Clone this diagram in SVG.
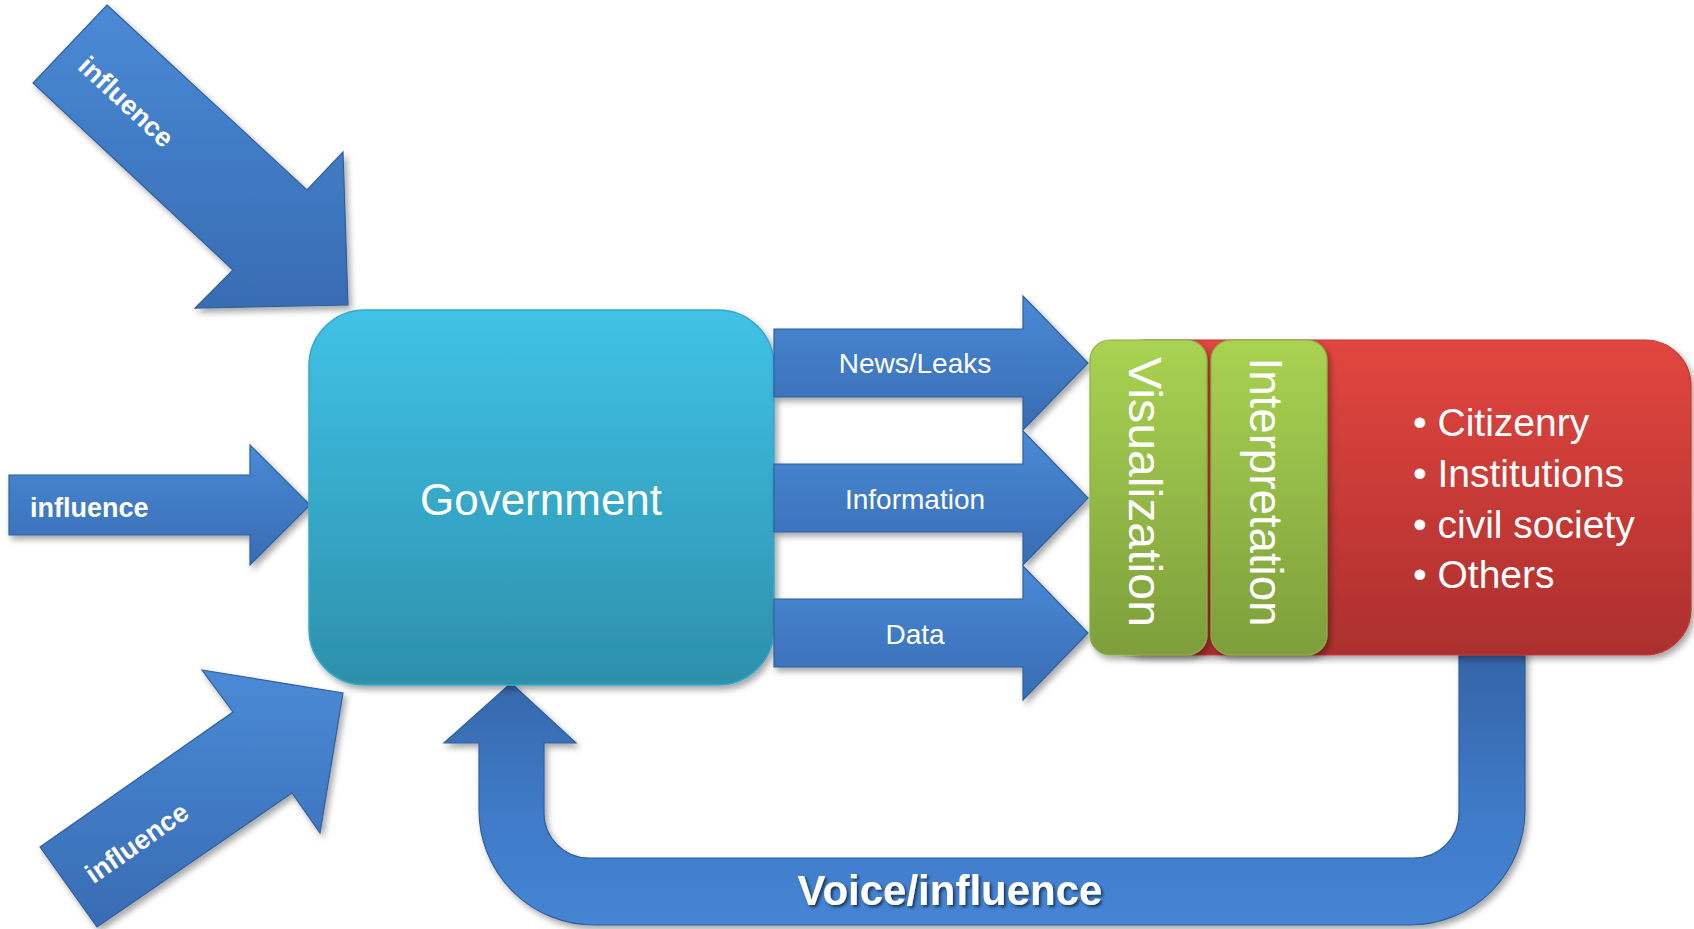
<svg xmlns="http://www.w3.org/2000/svg" width="1694" height="929" viewBox="0 0 1694 929">
<defs>
<style>
.arrow{fill:url(#gBlue);stroke:#2f5f9f;stroke-width:1.2;filter:url(#sh)}
.lbl{font-family:"Liberation Sans",Arial,sans-serif;fill:#ffffff}
.bold{font-weight:bold}
</style>
<linearGradient id="gBlue" x1="0" y1="0" x2="0" y2="1">
<stop offset="0" stop-color="#4a8ad6"/><stop offset="1" stop-color="#386cb3"/>
</linearGradient>
<linearGradient id="gLoop" x1="0" y1="0" x2="0" y2="1">
<stop offset="0" stop-color="#3463a6"/><stop offset="0.6" stop-color="#3f7bc8"/><stop offset="1" stop-color="#4585d4"/>
</linearGradient>
<linearGradient id="gGov" x1="0" y1="0" x2="0" y2="1">
<stop offset="0" stop-color="#40c2e6"/><stop offset="1" stop-color="#2d90ab"/>
</linearGradient>
<linearGradient id="gGreen" x1="0" y1="0" x2="0" y2="1">
<stop offset="0" stop-color="#a9d352"/><stop offset="1" stop-color="#7d9e3b"/>
</linearGradient>
<linearGradient id="gRed" x1="0" y1="0" x2="0" y2="1">
<stop offset="0" stop-color="#e2463f"/><stop offset="1" stop-color="#ac2f2e"/>
</linearGradient>
<filter id="sh" x="-10%" y="-10%" width="125%" height="125%">
<feDropShadow dx="3" dy="4" stdDeviation="3" flood-color="#000" flood-opacity="0.35"/>
</filter>
<filter id="tsh" x="-10%" y="-20%" width="125%" height="150%">
<feDropShadow dx="2" dy="2" stdDeviation="1.5" flood-color="#000" flood-opacity="0.6"/>
</filter>
</defs>

<g id="connectors">
<g id="arrow-influence-top">
<polygon class="arrow" points="107,5 307,190 343,152 348,305 195,308 233,270 33,83"/>
<text class="lbl bold" font-size="27" text-anchor="middle" x="0" y="9" transform="translate(126,102) rotate(43)">influence</text>
</g>
<g id="arrow-influence-mid">
<polygon class="arrow" points="9,475 250,475 250,445 310,505 250,565 250,535 9,535"/>
<text class="lbl bold" font-size="27" x="30" y="517">influence</text>
</g>
<g id="arrow-influence-bottom">
<polygon class="arrow" points="40,847 233,712 202,670 343,693 320,833 292,793 97,927"/>
<text class="lbl bold" font-size="27" text-anchor="middle" x="0" y="9" transform="translate(137,843) rotate(-35)">influence</text>
</g>
<g id="arrow-voice">
<path class="arrow" style="fill:url(#gLoop)" d="M511,683 L576,743 L544,743 L544,813 A45,45 0 0 0 589,858 L1414,858 A45,45 0 0 0 1459,813 L1459,650 L1525,650 L1525,810 A115,115 0 0 1 1410,925 L594,925 A115,115 0 0 1 479,810 L479,743 L444,743 Z"/>
<text class="lbl bold" font-size="42" text-anchor="middle" x="950" y="905" filter="url(#tsh)">Voice/influence</text>
</g>
</g>

<g id="node-government">
<rect x="309" y="310" width="465" height="375" rx="56" ry="56" fill="url(#gGov)" stroke="#37a9c9" stroke-width="1.5" filter="url(#sh)"/>
<text class="lbl" font-size="44" text-anchor="middle" x="541" y="515">Government</text>
</g>

<g id="flows">
<g id="arrow-news">
<polygon class="arrow" points="774,329 1023,329 1023,296 1088,363 1023,430 1023,397 774,397"/>
<text class="lbl" font-size="28" text-anchor="middle" x="915" y="373">News/Leaks</text>
</g>
<g id="arrow-information">
<polygon class="arrow" points="774,464 1023,464 1023,431 1088,498 1023,565 1023,532 774,532"/>
<text class="lbl" font-size="28" text-anchor="middle" x="915" y="509">Information</text>
</g>
<g id="arrow-data">
<polygon class="arrow" points="774,599 1023,599 1023,566 1088,633 1023,700 1023,667 774,667"/>
<text class="lbl" font-size="28" text-anchor="middle" x="915" y="644">Data</text>
</g>
</g>

<g id="node-audience">
<rect x="1100" y="340" width="591" height="315" rx="46" ry="46" fill="url(#gRed)" stroke="#c23a36" stroke-width="1.2" filter="url(#sh)"/>
<g class="lbl" font-size="39">
<text x="1413" y="436">• Citizenry</text>
<text x="1413" y="487">• Institutions</text>
<text x="1413" y="538">• civil society</text>
<text x="1413" y="588">• Others</text>
</g>
</g>

<g id="node-visualization">
<rect x="1090" y="340" width="117" height="315" rx="20" ry="20" fill="url(#gGreen)" stroke="#8db045" stroke-width="1.2" filter="url(#sh)"/>
<text class="lbl" font-size="47" text-anchor="middle" x="0" y="0" textLength="270" lengthAdjust="spacingAndGlyphs" transform="translate(1129,492) rotate(90)">Visualization</text>
</g>

<g id="node-interpretation">
<rect x="1211" y="340" width="116" height="315" rx="20" ry="20" fill="url(#gGreen)" stroke="#8db045" stroke-width="1.2" filter="url(#sh)"/>
<text class="lbl" font-size="47" text-anchor="middle" x="0" y="0" textLength="269" lengthAdjust="spacingAndGlyphs" transform="translate(1250,492) rotate(90)">Interpretation</text>
</g>
</svg>
